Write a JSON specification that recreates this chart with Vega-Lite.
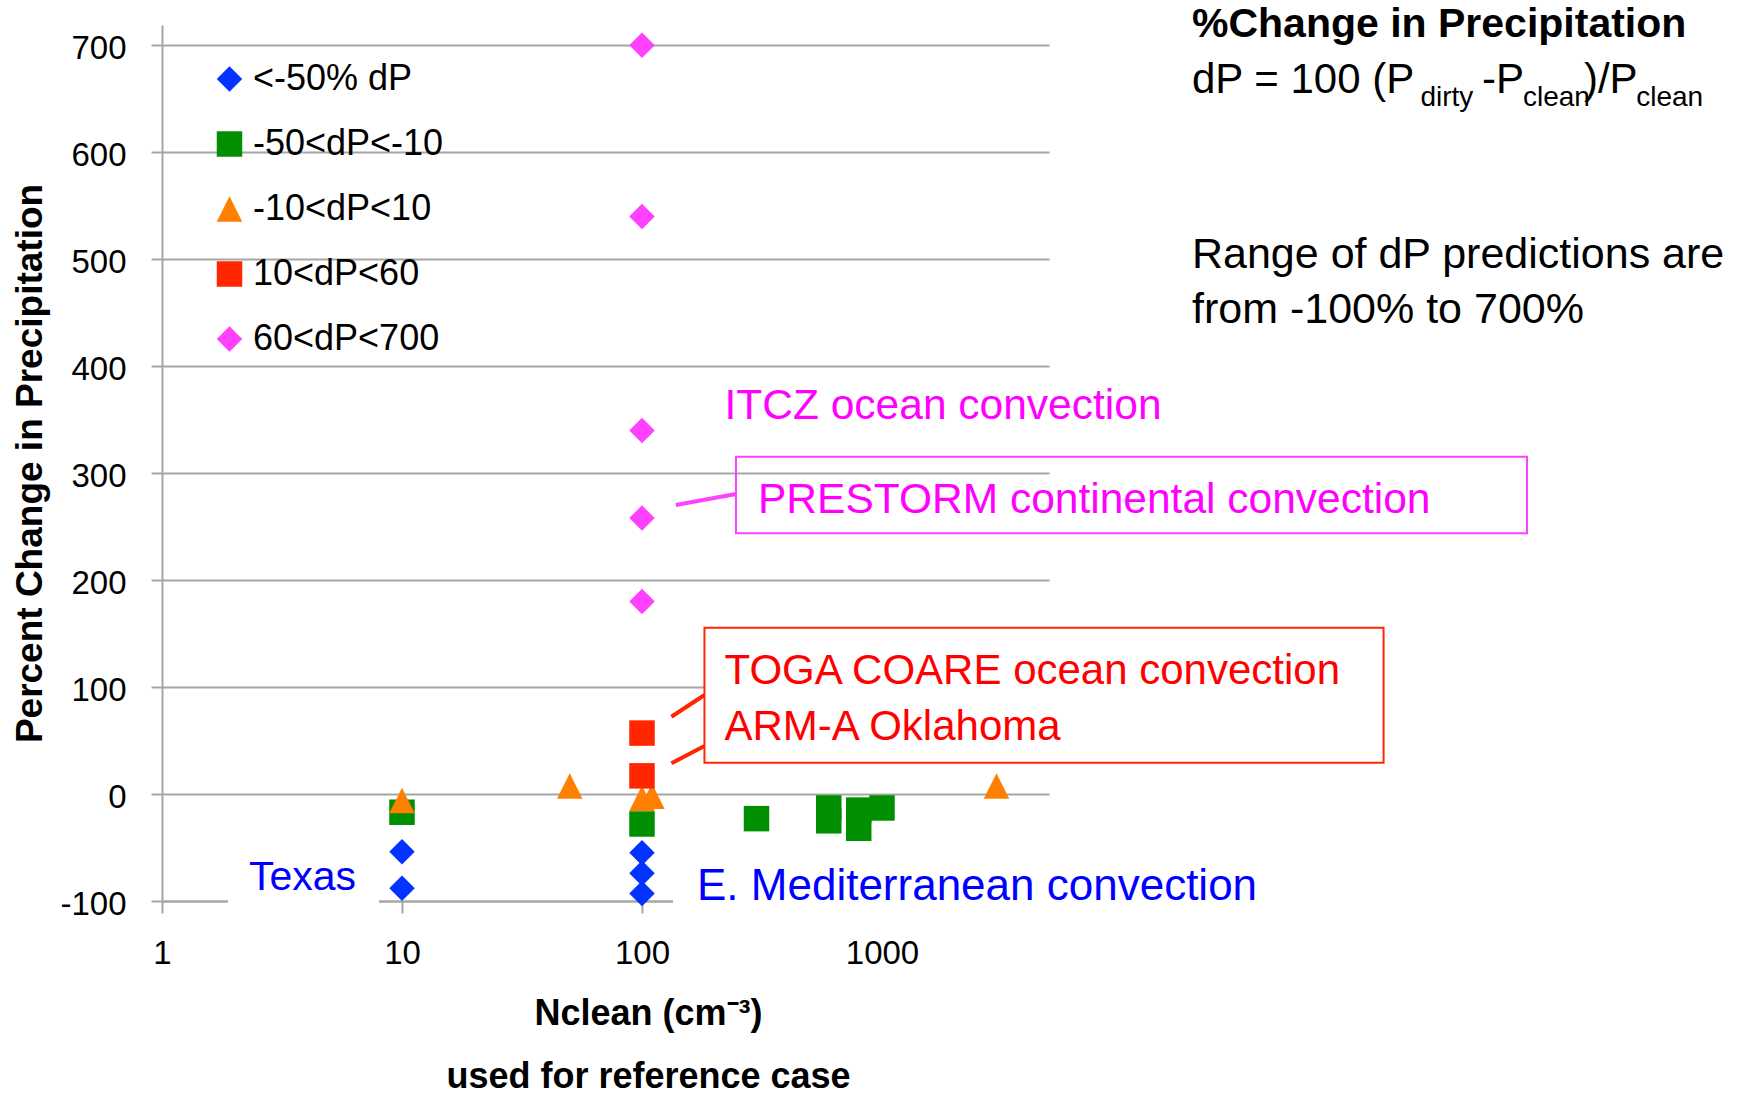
{
  "$schema": "https://vega.github.io/schema/vega-lite/v6.json",
  "width": 887,
  "height": 876,
  "autosize": {"type": "none"},
  "padding": {"left": 162, "top": 25, "right": 696, "bottom": 193},
  "background": "white",
  "config": {
    "view": {"stroke": null},
    "font": "Liberation Sans",
    "axis": {
      "domainColor": "#A6A6A6", "domainWidth": 2,
      "tickColor": "#A6A6A6", "tickWidth": 2,
      "gridColor": "#A6A6A6", "gridWidth": 2,
      "labelFont": "Liberation Sans", "labelFontSize": 33, "labelColor": "black",
      "titleFont": "Liberation Sans", "titleFontSize": 36, "titleFontWeight": "bold", "titleColor": "black"
    }
  },
  "encoding": {
    "x": {
      "field": "N", "type": "quantitative",
      "scale": {"type": "log", "domain": [1, 4965], "nice": false},
      "axis": {
        "values": [1, 10, 100, 1000], "labelExpr": "'' + datum.value", "grid": false,
        "labelFlush": false, "labelOverlap": false,
        "tickSize": 12, "labelPadding": 24,
        "title": ["Nclean (cm⁻³)", "used for reference case"],
        "titleX": 486, "titleY": 123, "titleBaseline": "alphabetic", "titleAlign": "center",
        "titleLineHeight": 63
      }
    },
    "y": {
      "field": "dP", "type": "quantitative",
      "scale": {"domain": [-100, 719], "nice": false, "zero": false},
      "axis": {
        "values": [-100, 0, 100, 200, 300, 400, 500, 600, 700],
        "labelExpr": "'' + datum.value", "labelFlush": false, "labelOverlap": false,
        "grid": true, "tickSize": 11, "labelPadding": 25, "labelOffset": 3,
        "title": "Percent Change in Precipitation", "titleFontSize": 37, "titlePadding": 10
      }
    }
  },
  "layer": [
    {
      "data": {"values": [
        {"N": 1.884, "N2": 8.022, "dP": -57, "dP2": -106.5},
        {"N": 134.7, "N2": 41376, "dP": -57, "dP2": -114}
      ]},
      "mark": {"type": "rect", "fill": "white", "strokeWidth": 0},
      "encoding": {"x2": {"field": "N2"}, "y2": {"field": "dP2"}}
    },
    {
      "data": {"values": [
        {"N": 10, "dP": -54, "cat": "<-50% dP"},
        {"N": 10, "dP": -88, "cat": "<-50% dP"},
        {"N": 100, "dP": -55, "cat": "<-50% dP"},
        {"N": 100, "dP": -74, "cat": "<-50% dP"},
        {"N": 100, "dP": -93, "cat": "<-50% dP"},
        {"N": 10, "dP": -17, "cat": "-50<dP<-10"},
        {"N": 100, "dP": -28, "cat": "-50<dP<-10"},
        {"N": 300, "dP": -23, "cat": "-50<dP<-10"},
        {"N": 600, "dP": -13, "cat": "-50<dP<-10"},
        {"N": 600, "dP": -25, "cat": "-50<dP<-10"},
        {"N": 800, "dP": -15, "cat": "-50<dP<-10"},
        {"N": 800, "dP": -32, "cat": "-50<dP<-10"},
        {"N": 1000, "dP": -13, "cat": "-50<dP<-10"},
        {"N": 10, "dP": -6, "cat": "-10<dP<10"},
        {"N": 50, "dP": 7.5, "cat": "-10<dP<10"},
        {"N": 100, "dP": -4, "cat": "-10<dP<10"},
        {"N": 110, "dP": -2, "cat": "-10<dP<10"},
        {"N": 3000, "dP": 7.5, "cat": "-10<dP<10"},
        {"N": 100, "dP": 57, "cat": "10<dP<60"},
        {"N": 100, "dP": 17, "cat": "10<dP<60"},
        {"N": 100, "dP": 700, "cat": "60<dP<700"},
        {"N": 100, "dP": 540, "cat": "60<dP<700"},
        {"N": 100, "dP": 340, "cat": "60<dP<700"},
        {"N": 100, "dP": 258, "cat": "60<dP<700"},
        {"N": 100, "dP": 180, "cat": "60<dP<700"}
      ]},
      "mark": {"type": "point", "filled": true, "opacity": 1, "size": 650, "strokeWidth": 0},
      "encoding": {
        "color": {
          "field": "cat", "type": "nominal",
          "scale": {
            "domain": ["<-50% dP", "-50<dP<-10", "-10<dP<10", "10<dP<60", "60<dP<700"],
            "range": ["#0433FF", "#008F00", "#FF8000", "#FF2600", "#FF40FF"]
          },
          "legend": {
            "orient": "none", "legendX": 49.5, "legendY": 36, "title": null,
            "labelFontSize": 36, "labelFont": "Liberation Sans", "labelColor": "black", "labelLimit": 0,
            "symbolSize": 650, "rowPadding": 29, "labelOffset": 5.5,
            "symbolStrokeWidth": 0, "symbolOpacity": 1, "padding": 0
          }
        },
        "shape": {
          "field": "cat", "type": "nominal",
          "scale": {
            "domain": ["<-50% dP", "-50<dP<-10", "-10<dP<10", "10<dP<60", "60<dP<700"],
            "range": ["diamond", "square", "M0,-1L1,1L-1,1Z", "square", "diamond"]
          }
        }
      }
    },
    {
      "data": {"values": [{"N": 138.3, "N2": 246.4, "dP": 270.2, "dP2": 280.5}]},
      "mark": {"type": "rule", "color": "#FF40FF", "strokeWidth": 4},
      "encoding": {"x2": {"field": "N2"}, "y2": {"field": "dP2"}}
    },
    {
      "data": {"values": [
        {"N": 132.6, "N2": 182.1, "dP": 72.3, "dP2": 92.6},
        {"N": 132.6, "N2": 182.1, "dP": 28.7, "dP2": 44.9}
      ]},
      "mark": {"type": "rule", "color": "#FF2600", "strokeWidth": 4},
      "encoding": {"x2": {"field": "N2"}, "y2": {"field": "dP2"}}
    },
    {
      "data": {"values": [{"N": 246.4, "N2": 487000, "dP": 315.4, "dP2": 243.8}]},
      "mark": {"type": "rect", "fillOpacity": 0, "stroke": "#FF40FF", "strokeWidth": 2},
      "encoding": {"x2": {"field": "N2"}, "y2": {"field": "dP2"}}
    },
    {
      "data": {"values": [{"N": 182.1, "N2": 123027, "dP": 155.5, "dP2": 29.3}]},
      "mark": {"type": "rect", "fill": "white", "stroke": "#FF2600", "strokeWidth": 2},
      "encoding": {"x2": {"field": "N2"}, "y2": {"field": "dP2"}}
    },
    {
      "data": {"values": [{"N": 19572, "dP": 708.1, "label": "%Change in Precipitation"}]},
      "mark": {"type": "text", "align": "left", "baseline": "alphabetic", "fontSize": 41, "fontWeight": "bold", "color": "black"},
      "encoding": {"text": {"field": "label"}}
    },
    {
      "data": {"values": [
        {"N": 19572, "dP": 655.5, "label": "dP = 100 (P"},
        {"N": 316228, "dP": 655.5, "label": "-P"},
        {"N": 841400, "dP": 655.5, "label": ")/P"}
      ]},
      "mark": {"type": "text", "align": "left", "baseline": "alphabetic", "fontSize": 42, "color": "black"},
      "encoding": {"text": {"field": "label"}}
    },
    {
      "data": {"values": [
        {"N": 175300, "dP": 643, "label": "dirty"},
        {"N": 468600, "dP": 643, "label": "clean"},
        {"N": 1389500, "dP": 643, "label": "clean"}
      ]},
      "mark": {"type": "text", "align": "left", "baseline": "alphabetic", "fontSize": 28, "color": "black"},
      "encoding": {"text": {"field": "label"}}
    },
    {
      "data": {"values": [
        {"N": 19572, "dP": 491.8, "label": "Range of dP predictions are"},
        {"N": 19572, "dP": 440.4, "label": "from -100% to 700%"}
      ]},
      "mark": {"type": "text", "align": "left", "baseline": "alphabetic", "fontSize": 43, "color": "black"},
      "encoding": {"text": {"field": "label"}}
    },
    {
      "data": {"values": [
        {"N": 220.7, "dP": 350.6, "label": "ITCZ ocean convection"},
        {"N": 304.4, "dP": 262.5, "label": "PRESTORM continental convection"}
      ]},
      "mark": {"type": "text", "align": "left", "baseline": "alphabetic", "fontSize": 42.5, "color": "#FF00FF"},
      "encoding": {"text": {"field": "label"}}
    },
    {
      "data": {"values": [
        {"N": 220.7, "dP": 102.6, "label": "TOGA COARE ocean convection"},
        {"N": 220.7, "dP": 50.5, "label": "ARM-A Oklahoma"}
      ]},
      "mark": {"type": "text", "align": "left", "baseline": "alphabetic", "fontSize": 42, "color": "#FF0000"},
      "encoding": {"text": {"field": "label"}}
    },
    {
      "data": {"values": [{"N": 2.304, "dP": -89.7, "label": "Texas"}]},
      "mark": {"type": "text", "align": "left", "baseline": "alphabetic", "fontSize": 41, "color": "#0000FF"},
      "encoding": {"text": {"field": "label"}}
    },
    {
      "data": {"values": [{"N": 169.5, "dP": -99.1, "label": "E. Mediterranean convection"}]},
      "mark": {"type": "text", "align": "left", "baseline": "alphabetic", "fontSize": 44, "color": "#0000FF"},
      "encoding": {"text": {"field": "label"}}
    }
  ]
}
